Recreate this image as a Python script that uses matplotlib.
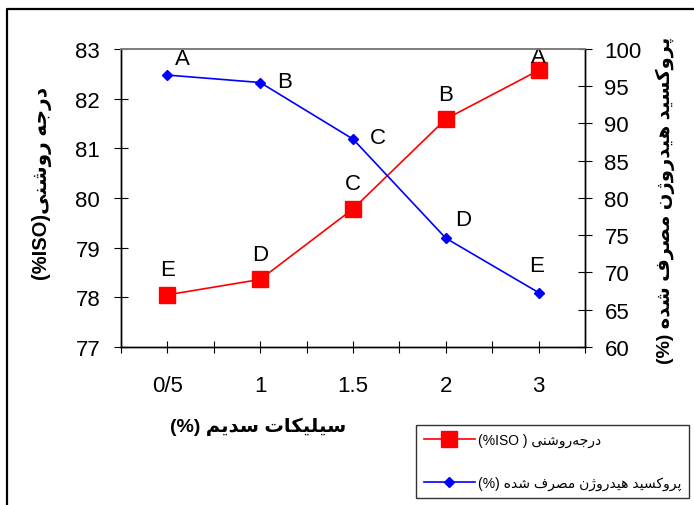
import matplotlib
matplotlib.use('Agg')
from matplotlib import pyplot as plt
from matplotlib.lines import Line2D
import numpy as np

plt.rcParams['font.family'] = ['Liberation Sans', 'DejaVu Sans']

# data
categories = ['0/5', '1', '1.5', '2', '3']
brightness = [78.05, 78.36, 79.78, 81.59, 82.57]       # left axis
peroxide = [96.5, 95.5, 87.9, 74.6, 67.3]              # right axis
brightness_letters = ['E', 'D', 'C', 'B', 'A']
peroxide_letters = ['A', 'B', 'C', 'D', 'E']

# letter offsets in pixels (style only)
red_off = [(0, 25), (0, 25), (0, 25), (0, 25), (0, 14)]
blue_off = [(15, 17), (24, 1), (25, 2), (17, 19), (-2, 27)]

# very small persian shaper (matplotlib has no arabic shaping)
FORMS = {
    'ا': ('\uFE8D', '\uFE8E', None, None),
    'پ': ('\uFB56', '\uFB57', '\uFB58', '\uFB59'),
    'ت': ('\uFE95', '\uFE96', '\uFE97', '\uFE98'),
    'ج': ('\uFE9D', '\uFE9E', '\uFE9F', '\uFEA0'),
    'د': ('\uFEA9', '\uFEAA', None, None),
    'ر': ('\uFEAD', '\uFEAE', None, None),
    'ژ': ('\uFB8A', '\uFB8B', None, None),
    'س': ('\uFEB1', '\uFEB2', '\uFEB3', '\uFEB4'),
    'ش': ('\uFEB5', '\uFEB6', '\uFEB7', '\uFEB8'),
    'ص': ('\uFEB9', '\uFEBA', '\uFEBB', '\uFEBC'),
    'ف': ('\uFED1', '\uFED2', '\uFED3', '\uFED4'),
    'ک': ('\uFB8E', '\uFB8F', '\uFB90', '\uFB91'),
    'ل': ('\uFEDD', '\uFEDE', '\uFEDF', '\uFEE0'),
    'م': ('\uFEE1', '\uFEE2', '\uFEE3', '\uFEE4'),
    'ن': ('\uFEE5', '\uFEE6', '\uFEE7', '\uFEE8'),
    'ه': ('\uFEE9', '\uFEEA', '\uFEEB', '\uFEEC'),
    'و': ('\uFEED', '\uFEEE', None, None),
    'ی': ('\uFBFC', '\uFBFD', '\uFBFE', '\uFBFF'),
}


def fa(text):
    out = []
    n = len(text)
    for i, ch in enumerate(text):
        if ch not in FORMS:
            if ch != '\u200c':
                out.append(ch)
            continue
        prev = text[i - 1] if i > 0 else ''
        nxt = text[i + 1] if i < n - 1 else ''
        jp = prev in FORMS and FORMS[prev][2] is not None
        jn = nxt in FORMS and FORMS[ch][2] is not None
        iso, fin, ini, med = FORMS[ch]
        if jp and jn:
            out.append(med)
        elif jp:
            out.append(fin)
        elif jn:
            out.append(ini)
        else:
            out.append(iso)
    return ''.join(out[::-1])


x = np.arange(len(categories))

fig = plt.figure(figsize=(6.94, 5.06), dpi=100)
ax = fig.add_axes([0.1744, 0.3123, 0.6686, 0.5889])
ax2 = ax.twinx()

ax.plot(x, brightness, color='red', lw=1.2, marker='s', ms=12, zorder=3)
ax2.plot(x, peroxide, color='blue', lw=1.2, marker='D', ms=5.5, zorder=3)

for xi, yi, t, o in zip(x, brightness, brightness_letters, red_off):
    ax.annotate(t, (xi, yi), xytext=o, textcoords='offset pixels',
                ha='center', va='center', fontsize=16)
for xi, yi, t, o in zip(x, peroxide, peroxide_letters, blue_off):
    ax2.annotate(t, (xi, yi), xytext=o, textcoords='offset pixels',
                 ha='center', va='center', fontsize=16)

ax.set_xlim(-0.5, 4.5)
ax.set_ylim(77, 83)
ax2.set_ylim(60, 100)
ax.set_xticks(x)
ax.set_xticklabels(categories)
ax.set_xticks(np.arange(-0.5, 5, 1), minor=True)
ax.set_yticks(np.arange(77, 84, 1))
ax2.set_yticks(np.arange(60, 101, 5))

ax.tick_params(axis='x', which='both', direction='inout', length=8, width=0.8,
               labelsize=16, pad=16)
ax.tick_params(axis='y', direction='inout', length=10, width=0.8,
               labelsize=16, pad=10)
ax2.tick_params(axis='y', direction='inout', length=10, width=0.8,
                labelsize=16, pad=9)

for a in (ax, ax2):
    a.spines['top'].set_color('#808080')
    a.spines['top'].set_linewidth(1.3)
    for s in ('left', 'right', 'bottom'):
        a.spines[s].set_linewidth(1.0)

# axis titles
fig.text(42 / 694, 1 - 183 / 506, '(%ISO)' + fa('درجه روشنی'), rotation=90,
         ha='center', va='center', fontsize=14.5, fontweight='bold')
fig.text(665 / 694, 1 - 200 / 506, '(%) ' + fa('پروکسید هیدروژن مصرف شده'),
         rotation=90, ha='center', va='center', fontsize=14, fontweight='bold')
fig.text(258 / 694, 1 - 427 / 506, '(%) ' + fa('سیلیکات سدیم'),
         ha='center', va='center', fontsize=14, fontweight='bold')

# legend
handles = [Line2D([], [], color='red', lw=1.2, marker='s', ms=12),
           Line2D([], [], color='blue', lw=1.2, marker='D', ms=5.5)]
labels = ['(%ISO ) ' + fa('درجه\u200cروشنی'),
          '(%) ' + fa('پروکسید هیدروژن مصرف شده')]
leg = fig.legend(handles, labels, loc='center', bbox_to_anchor=(0.796, 0.086),
                 fontsize=10, frameon=True, fancybox=False, edgecolor='black',
                 handlelength=3.7, borderpad=0.55, labelspacing=2.1,
                 handletextpad=0.2)
leg.get_frame().set_linewidth(1.0)

# outer frame (left and top)
fig.add_artist(Line2D([0.0101, 0.0101, 1.0], [0.0, 0.980, 0.980],
                      color='black', lw=1.6, transform=fig.transFigure))

fig.savefig('out.png', dpi=100)
